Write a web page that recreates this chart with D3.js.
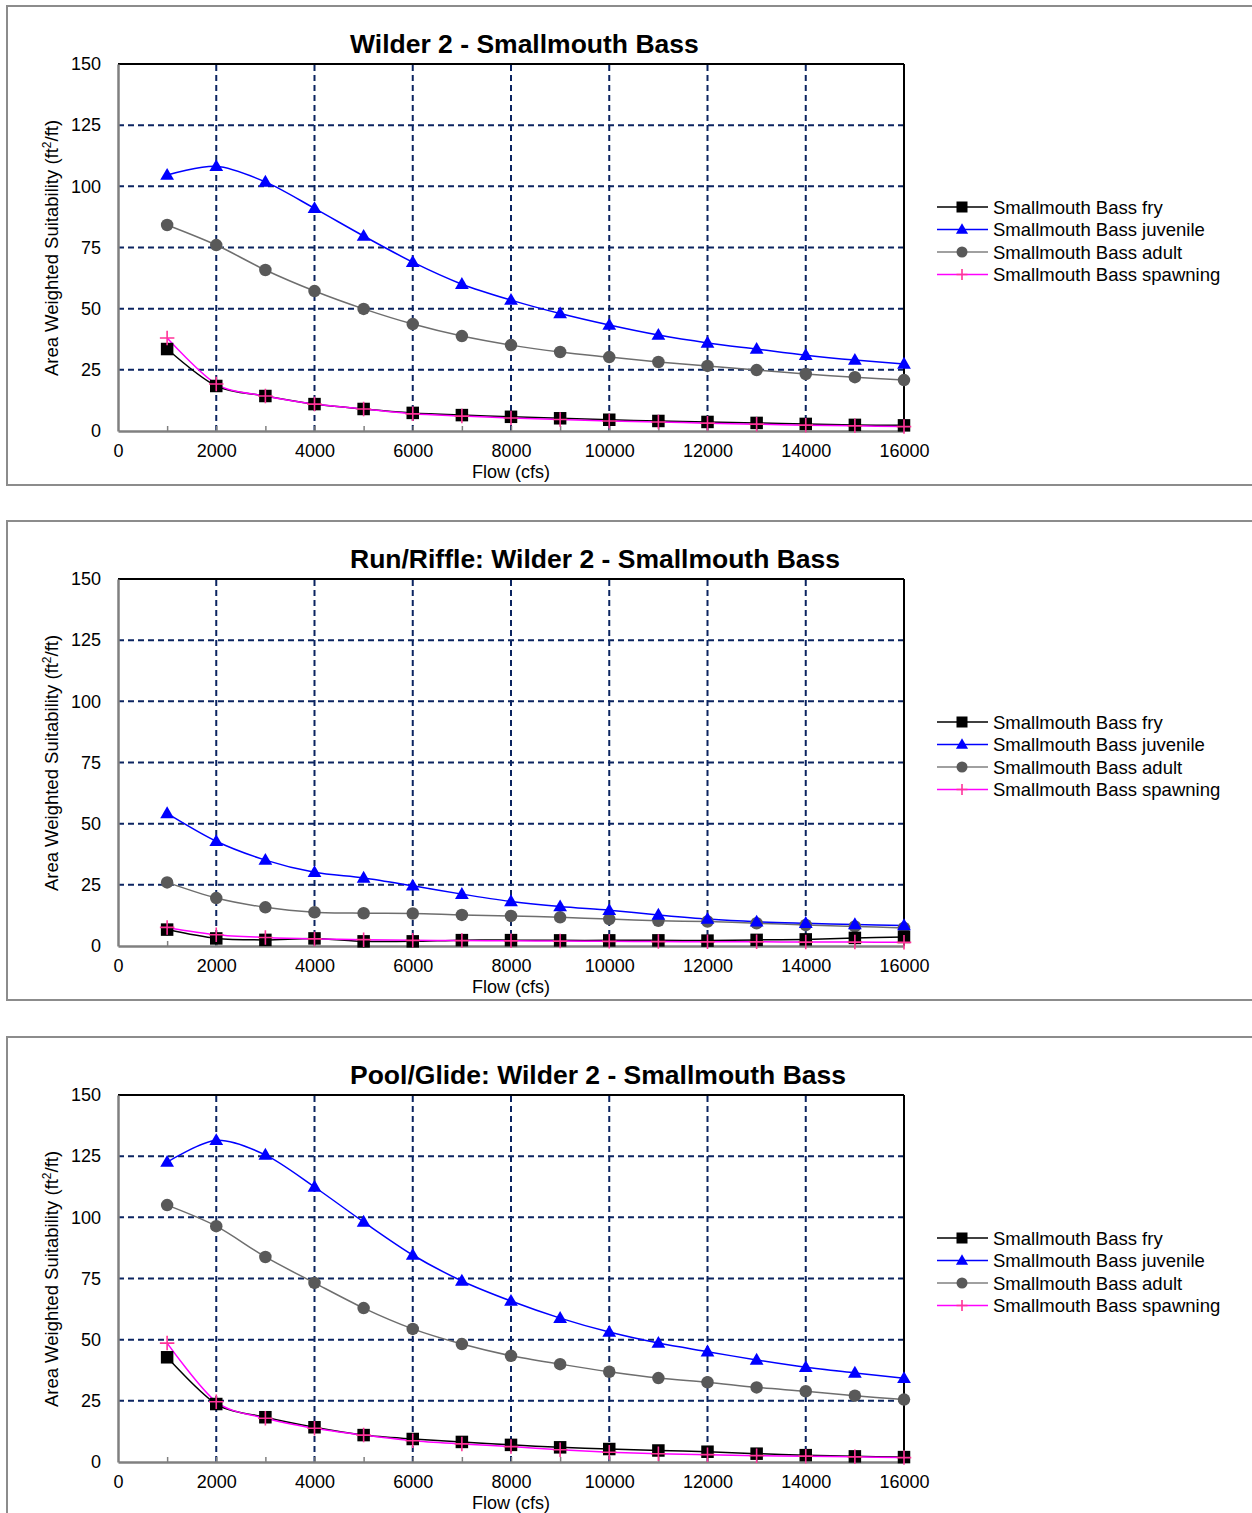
<!DOCTYPE html>
<html>
<head>
<meta charset="utf-8">
<script src="https://cdn.jsdelivr.net/npm/d3@7"></script>
<style>
  body { margin: 0; background: #fff; }
  svg { display: block; font-family: "Liberation Sans", Arial, sans-serif; }
</style>
</head>
<body>
<svg id="chart" width="1252" height="1513"></svg>
<script>
// ---------- DATA ----------
const flows = [1000,2000,3000,4000,5000,6000,7000,8000,9000,10000,11000,12000,13000,14000,15000,16000];
const xTicks = [0,2000,4000,6000,8000,10000,12000,14000,16000];
const yTicks = [0,25,50,75,100,125,150];
const seriesNames = ["Smallmouth Bass fry","Smallmouth Bass juvenile","Smallmouth Bass adult","Smallmouth Bass spawning"];
const titles = ["Wilder 2 - Smallmouth Bass","Run/Riffle: Wilder 2 - Smallmouth Bass","Pool/Glide: Wilder 2 - Smallmouth Bass"];

// Chart 1: Wilder 2 (total)
const c1Fry      = [33.5,18.4,14.3,11.0,9.0,7.4,6.5,5.8,5.2,4.6,4.1,3.7,3.3,2.9,2.5,2.3];
const c1Juvenile = [104.6,108.2,101.8,91.0,79.7,69.0,60.0,53.5,48.0,43.3,39.2,36.0,33.5,31.0,29.0,27.4];
const c1Adult    = [84.2,76.0,65.8,57.2,49.9,43.7,38.8,35.1,32.3,30.2,28.2,26.6,24.9,23.3,22.0,20.8];
const c1Spawning = [38.0,19.2,14.3,11.0,9.0,7.0,6.1,5.3,4.7,4.1,3.7,3.2,2.8,2.4,2.1,1.8];

// Chart 2: Run/Riffle
const c2Fry      = [6.7,3.1,2.5,3.1,1.9,1.9,2.4,2.4,2.3,2.3,2.3,2.2,2.5,2.7,3.3,3.7];
const c2Juvenile = [54.2,42.8,35.1,30.1,27.8,24.6,21.2,18.2,16.1,14.6,12.7,11.0,9.9,9.3,8.8,8.4];
const c2Adult    = [26.0,19.6,15.8,13.8,13.4,13.3,12.7,12.3,11.7,11.0,10.3,10.0,9.3,8.6,8.0,7.4];
const c2Spawning = [7.6,4.6,3.5,2.9,2.6,2.3,2.2,2.1,2.0,1.9,1.8,1.7,1.7,1.6,1.6,1.5];

// Chart 3: Pool/Glide
const c3Fry      = [42.8,23.7,18.3,14.2,11.0,9.4,8.2,7.0,6.0,5.3,4.7,4.2,3.4,2.8,2.3,2.0];
const c3Juvenile = [122.6,131.5,125.5,112.4,98.1,84.6,74.0,65.8,58.8,53.1,48.6,45.1,41.7,38.7,36.4,34.2];
const c3Adult    = [105.0,96.4,83.8,73.2,62.9,54.4,48.2,43.4,40.0,36.9,34.3,32.6,30.5,28.9,27.1,25.5];
const c3Spawning = [48.6,24.6,17.9,13.8,11.0,8.7,7.4,6.3,5.0,4.0,3.4,3.0,2.6,2.4,2.1,1.8];

const charts = [
  {title: titles[0], series: [c1Fry, c1Juvenile, c1Adult, c1Spawning]},
  {title: titles[1], series: [c2Fry, c2Juvenile, c2Adult, c2Spawning]},
  {title: titles[2], series: [c3Fry, c3Juvenile, c3Adult, c3Spawning]}
];

// ---------- STYLE ----------
const styles = [
  {line: "#000000", marker: "square",   fill: "#000000", stroke: "#000000"},
  {line: "#0000ff", marker: "triangle", fill: "#0000ff", stroke: "#0000ff"},
  {line: "#6e6e6e", marker: "circle",   fill: "#595959", stroke: "#595959"},
  {line: "#ff00ff", marker: "plus",     fill: "none",    stroke: "#ff3399"}
];
const legendLineColors = ["#000000","#0000ff","#808080","#ff00ff"];
const gridColor = "#0b2461";
const FONT = "Liberation Sans, Arial, sans-serif";

const svg = d3.select("#chart");
const panelTops = [5, 520, 1036];

function drawMarker(g, type, x, y, st, size) {
  if (type === "square") {
    g.append("rect").attr("x", x - size/2).attr("y", y - size/2)
      .attr("width", size).attr("height", size).attr("fill", st.fill);
  } else if (type === "triangle") {
    const h = size * 0.95, w = size * 1.1;
    g.append("path").attr("d", `M${x},${y - h*0.6} L${x + w/2},${y + h*0.4} L${x - w/2},${y + h*0.4} Z`)
      .attr("fill", st.fill);
  } else if (type === "circle") {
    g.append("circle").attr("cx", x).attr("cy", y).attr("r", size/2).attr("fill", st.fill);
  } else if (type === "plus") {
    const s = size/2 + 1;
    g.append("path").attr("d", `M${x - s},${y} H${x + s} M${x},${y - s} V${y + s}`)
      .attr("stroke", st.stroke).attr("stroke-width", 1.6).attr("fill", "none");
  }
}

charts.forEach((chart, ci) => {
  const top = panelTops[ci];
  const g = svg.append("g");

  // panel frame
  g.append("rect").attr("x", 7).attr("y", top + 1).attr("width", 1260).attr("height", 479)
    .attr("fill", "#fff").attr("stroke", "#8c8c8c").attr("stroke-width", 2);

  const plotTop = top + 59, plotBottom = top + 426;
  const x = d3.scaleLinear().domain([0, 16000]).range([118, 904]);
  const y = d3.scaleLinear().domain([0, 150]).range([plotBottom, plotTop]);

  // gridlines
  g.append("g").selectAll("line").data(yTicks.filter(v => v > 0 && v < 150)).join("line")
    .attr("x1", x(0)).attr("x2", x(16000)).attr("y1", d => y(d)).attr("y2", d => y(d))
    .attr("stroke", gridColor).attr("stroke-width", 2).attr("stroke-dasharray", "6,4");
  g.append("g").selectAll("line").data(xTicks.filter(v => v > 0 && v < 16000)).join("line")
    .attr("x1", d => x(d)).attr("x2", d => x(d)).attr("y1", y(0)).attr("y2", y(150))
    .attr("stroke", gridColor).attr("stroke-width", 2).attr("stroke-dasharray", "6,4");

  // frame top/right black
  g.append("line").attr("x1", x(0)).attr("x2", x(16000)).attr("y1", y(150)).attr("y2", y(150))
    .attr("stroke", "#000").attr("stroke-width", 2);
  g.append("line").attr("x1", x(16000)).attr("x2", x(16000)).attr("y1", y(150)).attr("y2", y(0))
    .attr("stroke", "#000").attr("stroke-width", 2);

  // x axis
  const xAxis = d3.axisBottom(x).tickValues(xTicks).tickSize(0).tickPadding(13).tickFormat(d3.format("d"));
  const xg = g.append("g").attr("transform", `translate(0,${y(0)})`).call(xAxis);
  xg.select(".domain").attr("stroke", "#808080").attr("stroke-width", 2.5);
  xg.selectAll("text").attr("font-size", 18).attr("fill", "#000").attr("font-family", FONT);
  // minor inward ticks
  const minor = d3.axisTop(x).tickValues(d3.range(1000, 16000, 1000)).tickSize(5).tickFormat("");
  const mg = g.append("g").attr("transform", `translate(0,${y(0)})`).call(minor);
  mg.select(".domain").remove();
  mg.selectAll("line").attr("stroke", "#808080").attr("stroke-width", 1.5);

  // y axis
  const yAxis = d3.axisLeft(y).tickValues(yTicks).tickSize(0).tickPadding(17);
  const yg = g.append("g").attr("transform", `translate(${x(0)},0)`).call(yAxis);
  yg.select(".domain").attr("stroke", "#808080").attr("stroke-width", 2.5);
  yg.selectAll("text").attr("font-size", 18).attr("fill", "#000").attr("font-family", FONT);

  // titles
  g.append("text").attr("x", 350).attr("y", top + 48).attr("font-size", 26.5).attr("font-weight", "bold")
    .attr("fill", "#000").text(chart.title);
  g.append("text").attr("x", 511).attr("y", top + 473).attr("text-anchor", "middle")
    .attr("font-size", 18).attr("fill", "#000").text("Flow (cfs)");
  const yt = g.append("text").attr("transform", `translate(58,${top + 243}) rotate(-90)`)
    .attr("text-anchor", "middle").attr("font-size", 18.5).attr("fill", "#000");
  yt.append("tspan").text("Area Weighted Suitability (ft");
  yt.append("tspan").attr("font-size", 12).attr("dy", -7).text("2");
  yt.append("tspan").attr("dy", 7).text("/ft)");

  // series
  const line = d3.line().x((d, i) => x(flows[i])).y(d => y(d)).curve(d3.curveCardinal.tension(0.1));
  const order = [2, 1, 0, 3];
  order.forEach(si => {
    g.append("path").datum(chart.series[si]).attr("d", line)
      .attr("fill", "none").attr("stroke", styles[si].line).attr("stroke-width", 1.5);
  });
  order.forEach(si => {
    const mg2 = g.append("g");
    chart.series[si].forEach((v, i) => drawMarker(mg2, styles[si].marker, x(flows[i]), y(v), styles[si], 12.5));
  });

  // legend
  const lg = g.append("g");
  seriesNames.forEach((name, si) => {
    const ly = top + 202 + si * 22.5;
    lg.append("line").attr("x1", 937).attr("x2", 988).attr("y1", ly).attr("y2", ly)
      .attr("stroke", legendLineColors[si]).attr("stroke-width", 1.5);
    drawMarker(lg, styles[si].marker, 962, ly, styles[si], si === 3 ? 9 : 11);
    lg.append("text").attr("x", 993).attr("y", ly + 6.5).attr("font-size", 18.5).attr("fill", "#000").text(name);
  });
});
</script>
</body>
</html>
